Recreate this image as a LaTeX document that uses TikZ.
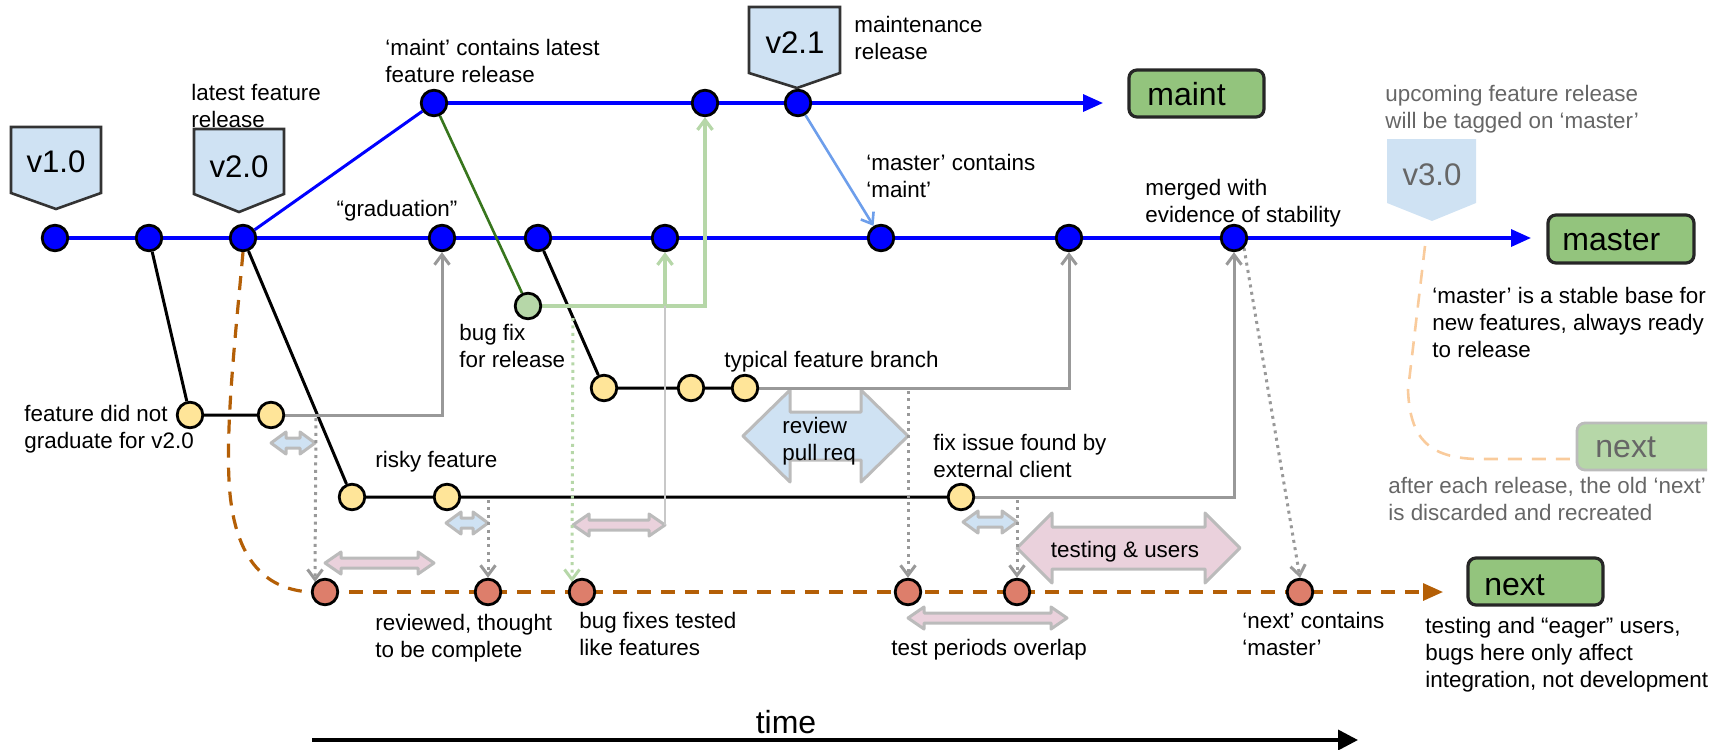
\documentclass[tikz,border=0pt]{standalone}
\usepackage{fontspec}
\setmainfont{Liberation Sans}
\usetikzlibrary{arrows.meta}

\definecolor{commitblue}{HTML}{0000FF}
\definecolor{featyellow}{HTML}{FFE599}
\definecolor{nextred}{HTML}{DD7E6B}
\definecolor{fixgreen}{HTML}{B6D7A8}
\definecolor{boxgreen}{HTML}{93C47D}
\definecolor{tagblue}{HTML}{CFE2F3}
\definecolor{nextorange}{HTML}{B45F06}
\definecolor{paleorange}{HTML}{F9CB9C}
\definecolor{pinkfill}{HTML}{EAD1DC}
\definecolor{fixdark}{HTML}{38761D}
\definecolor{cornflower}{HTML}{6D9EEB}
\definecolor{mergegray}{HTML}{999999}
\definecolor{outlinegray}{HTML}{BBBBBB}
\definecolor{thingray}{HTML}{C8C8C8}
\definecolor{softtext}{HTML}{666666}

\pgfdeclarelayer{bg}
\pgfsetlayers{bg,main}

% wide double-headed arrow: style, x1, x2, y, head half-height, shaft half-height, head length
\newcommand\fatarrow[7]{%
  \path[#1] ({#2},{#4}) -- ({#2+#7},{#4-#5}) -- ({#2+#7},{#4-#6}) -- ({#3-#7},{#4-#6})
    -- ({#3-#7},{#4-#5}) -- ({#3},{#4}) -- ({#3-#7},{#4+#5}) -- ({#3-#7},{#4+#6})
    -- ({#2+#7},{#4+#6}) -- ({#2+#7},{#4+#5}) -- cycle;}

\tikzset{
  commit/.style={circle, draw=black, line width=1.4pt, minimum size=12.8pt, inner sep=0pt},
  mcommit/.style={commit, fill=commitblue},
  fcommit/.style={commit, fill=featyellow},
  ncommit/.style={commit, fill=nextred},
  bcommit/.style={commit, fill=fixgreen},
  lbl/.style={font=\fontsize{11.2}{13.4}\selectfont, inner sep=0pt, align=left, anchor=north west},
  lblone/.style={font=\fontsize{11.2}{13.4}\selectfont, inner sep=0pt, anchor=base west},
  taglbl/.style={font=\fontsize{15.6}{18}\selectfont, inner sep=0pt, anchor=base},
  tagshape/.style={fill=tagblue, draw=black!80, line width=1.3pt, line join=miter},
  branchbox/.style={fill=boxgreen, draw=black!85, line width=1.6pt, rounded corners=4pt},
  branchlbl/.style={font=\fontsize{16}{18}\selectfont, inner sep=0pt, anchor=base west},
  bluefat/.style={fill=tagblue, draw=outlinegray, line width=1.5pt, line join=round},
  pinkfat/.style={fill=pinkfill, draw=outlinegray, line width=1.5pt, line join=round},
  branchline/.style={draw=commitblue, line width=1.7pt, -{Triangle[length=10pt,width=8.5pt]}},
  blueline/.style={draw=commitblue, line width=1.5pt},
  featline/.style={draw=black, line width=1.5pt},
  mergeline/.style={draw=mergegray, line width=1.5pt, -{Straight Barb[length=5pt,width=7.5pt]}},
  fixline/.style={draw=fixgreen, line width=1.6pt, -{Straight Barb[length=5pt,width=7.5pt]}},
  nextline/.style={draw=nextorange, line width=1.6pt, dash pattern=on 7pt off 5pt},
  dotarrow/.style={draw=mergegray, line width=1.5pt, dash pattern=on 1.5pt off 2.2pt, -{Straight Barb[length=5pt,width=7.5pt]}},
  dotgreen/.style={draw=fixgreen, line width=1.5pt, dash pattern=on 1.5pt off 2.2pt, -{Straight Barb[length=5pt,width=7.5pt]}},
  paledash/.style={draw=paleorange, line width=1.3pt, dash pattern=on 7pt off 5pt},
}

\begin{document}
\begin{tikzpicture}[x=0.5pt, y=-0.5pt]
\useasboundingbox (0,0) rectangle (1725,750);

% ---- commits on master
\node[mcommit] (m1) at (55,238) {};
\node[mcommit] (m2) at (149,238) {};
\node[mcommit] (m3) at (243,238) {};
\node[mcommit] (m4) at (442,238) {};
\node[mcommit] (m5) at (538,238) {};
\node[mcommit] (m6) at (665,238) {};
\node[mcommit] (m7) at (881,238) {};
\node[mcommit] (m8) at (1069,238) {};
\node[mcommit] (m9) at (1234,238) {};
\coordinate (mend) at (1531,238);

% ---- commits on maint
\node[mcommit] (a1) at (434,103) {};
\node[mcommit] (a2) at (705,103) {};
\node[mcommit] (a3) at (798,103) {};
\coordinate (aend) at (1103,103);

% ---- bug fix
\node[bcommit] (b1) at (528,306) {};

% ---- feature branches
\node[fcommit] (f1) at (190,415) {};
\node[fcommit] (f2) at (271,415) {};
\node[fcommit] (r1) at (352,497) {};
\node[fcommit] (r2) at (447,497) {};
\node[fcommit] (r3) at (961,497) {};
\node[fcommit] (t1) at (604,388) {};
\node[fcommit] (t2) at (691,388) {};
\node[fcommit] (t3) at (745,388) {};

% ---- commits on next
\node[ncommit] (n1) at (325,592) {};
\node[ncommit] (n2) at (488,592) {};
\node[ncommit] (n3) at (582,592) {};
\node[ncommit] (n4) at (908,592) {};
\node[ncommit] (n5) at (1017,592) {};
\node[ncommit] (n6) at (1300,592) {};
\coordinate (nend) at (1443,592);

% ---- free ends of the test-period connectors
\coordinate (d1) at (316,418);
\coordinate (d2) at (488,500);
\coordinate (d4) at (908,391);
\coordinate (d5) at (1017,500);
\coordinate (g1) at (573,318);
\coordinate (p2end) at (665,525);
\coordinate (vtail) at (1425,246);

\begin{pgfonlayer}{bg}
  % review / test periods
  \fatarrow{bluefat}{271}{315}{443}{11}{5}{15}
  \fatarrow{bluefat}{446}{488}{523}{11}{5}{15}
  \fatarrow{bluefat}{963}{1017}{522}{11}{5}{15}
  \fatarrow{pinkfat}{325}{434}{563}{11}{5}{16}
  \fatarrow{pinkfat}{573}{665}{525}{11}{5}{16}
  \fatarrow{pinkfat}{908}{1067}{618}{11}{5}{16}
  \fatarrow{bluefat}{743}{908}{436}{46}{24}{47}
  \fatarrow{pinkfat}{1017}{1240}{548}{35}{21}{35}

  % branches
  \draw[branchline] (m1.center) -- (mend);
  \draw[branchline] (a1.center) -- (aend);
  \draw[blueline] (m3) -- (a1);
  \draw[featline] (m2) -- (f1) -- (f2);
  \draw[featline] (m3) -- (r1) -- (r2) -- (r3);
  \draw[featline] (m5) -- (t1) -- (t2) -- (t3);

  % merges
  \draw[mergeline] (f2) -- (m4 |- f2) -- (m4);
  \draw[mergeline] (t3) -- (m8 |- t3) -- (m8);
  \draw[mergeline] (r3) -- (m9 |- r3) -- (m9);
  \draw[draw=fixdark, line width=1.3pt] (a1) -- (b1);
  \draw[fixline] (b1) -- (a2 |- b1) -- (a2);
  \draw[fixline] (m6 |- b1) -- (m6);
  \draw[draw=thingray, line width=0.8pt] (p2end) -- (m6 |- b1);
  \draw[draw=cornflower, line width=1.3pt, -{Straight Barb[length=5pt,width=7.5pt]}] (a3) -- (m7);

  % next
  \draw[nextline, -{Triangle[length=10pt,width=8.5pt]}] (n1.center) -- (nend);
  \draw[nextline] (m3.south) .. controls (236,330) and (226,420) .. (229,480)
      .. controls (233,565) and (270,590) .. (n1.west);
  \draw[dotarrow] (d1) -- (n1.north west);
  \draw[dotarrow] (d2) -- (n2.north);
  \draw[dotgreen] (g1) -- (n3.north west);
  \draw[dotarrow] (d4) -- (n4.north);
  \draw[dotarrow] (d5) -- (n5.north);
  \draw[dotarrow] (m9.south east) -- (n6.north);
\end{pgfonlayer}

% ---- release tags
\path[tagshape] (11,127) -- (101,127) -- (101,193) -- (56,209) -- (11,193) -- cycle;
\node[taglbl] (v10) at (56,172) {v1.0};
\path[tagshape] (194,129) -- (284,129) -- (284,194) -- (239,212) -- (194,194) -- cycle;
\node[taglbl] (v20) at (239,177) {v2.0};
\path[tagshape] (749,7) -- (840,7) -- (840,73) -- (797,88) -- (749,73) -- cycle;
\node[taglbl] (v21) at (795,53) {v2.1};
\path[fill=tagblue] (1387,139) -- (1476,139) -- (1476,203) -- (1432,221) -- (1387,203) -- cycle;
\node[taglbl, text=softtext] (v30) at (1432,185) {v3.0};

% ---- branch names
\draw[branchbox] (1129,70) rectangle (1264,117);
\node[branchlbl] (maintname) at (1147,105) {maint};
\draw[branchbox] (1548,215) rectangle (1694,263);
\node[branchlbl] (mastername) at (1562,250) {master};
\draw[branchbox] (1468,558) rectangle (1603,605);
\node[branchlbl] (nextname) at (1484,595) {next};

% ---- labels
\node[lbl] (lfr) at (191,84) {latest feature\\release};
\node[lbl] (mcl) at (385,39) {‘maint’ contains latest\\feature release};
\node[lblone, anchor=base] (grad) at (397,216) {“graduation”};
\node[lbl] (mrel) at (854,16) {maintenance\\release};
\node[lbl] (mcm) at (866,154) {‘master’ contains\\‘maint’};
\node[lbl] (mwe) at (1145,179) {merged with\\evidence of stability};
\node[lbl, text=softtext] (upc) at (1385,85) {upcoming feature release\\will be tagged on ‘master’};
\node[lbl] (fdn) at (24,405) {feature did not\\graduate for v2.0};
\node[lbl] (bfr) at (459,324) {bug fix\\for release};
\node[lblone] (tfb) at (724,367) {typical feature branch};
\node[lblone] (rsk) at (375,467) {risky feature};
\node[lbl] (rpr) at (782,417) {review\\pull req};
\node[lbl] (fix) at (933,434) {fix issue found by\\external client};
\node[lblone, anchor=base] (tau) at (1125,557) {testing \& users};
\node[lbl] (rtc) at (375,614) {reviewed, thought\\to be complete};
\node[lbl] (bft) at (579,612) {bug fixes tested\\like features};
\node[lblone] (tpo) at (891,655) {test periods overlap};
\node[lbl] (ncm) at (1242,612) {‘next’ contains\\‘master’};

% ---- right margin notes, cut at the page edge
\begin{scope}
  \clip (0,0) rectangle (1707,750);
  \node[lbl] (msb) at (1432,287) {‘master’ is a stable base for\\new features, always ready\\to release};
  \draw[fill=fixgreen, draw=outlinegray, line width=1.4pt, rounded corners=4pt] (1577,423) rectangle (1760,470);
  \node[branchlbl, text=softtext] (oldnext) at (1595,457) {next};
  \node[lbl, text=softtext] (aer) at (1388,477) {after each release, the old ‘next’\\is discarded and recreated};
  \node[lbl] (tae) at (1425,617) {testing and “eager” users,\\bugs here only affect\\integration, not development};
\end{scope}
\coordinate (oldin) at (1577,459);
\draw[paledash] (vtail) -- (1408,390) .. controls (1410,440) and (1430,457) .. (1475,459) -- (oldin);

% ---- time axis
\coordinate (tstart) at (312,740);
\coordinate (tend) at (1358,740);
\draw[line width=1.8pt, -{Triangle[length=10pt,width=10pt]}] (tstart) -- (tend);
\node[font=\fontsize{16}{18}\selectfont, inner sep=0pt, anchor=base] (timelbl) at (786,733) {time};
\end{tikzpicture}
\end{document}
